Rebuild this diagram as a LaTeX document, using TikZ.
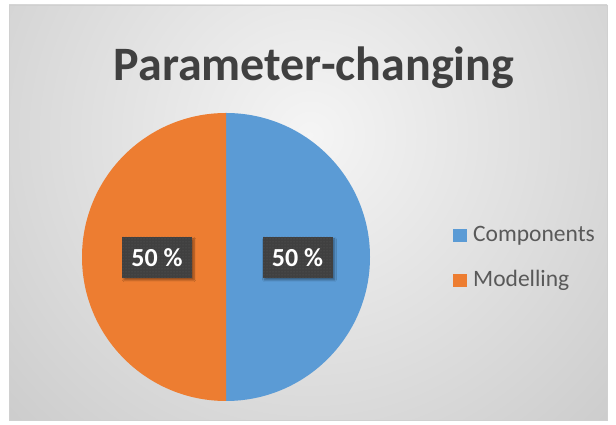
\documentclass[tikz,border=0pt]{standalone}
\usepackage{fontspec}
\setmainfont{Carlito}
\usetikzlibrary{shadows.blur,patterns}
\definecolor{cblue}{HTML}{5B9BD5}
\definecolor{corange}{HTML}{ED7D31}
\definecolor{cdark}{HTML}{404040}
\definecolor{ctext}{HTML}{595959}
\definecolor{cborder}{HTML}{D0D0D0}
\tikzset{
  pctbox/.style={fill=cdark, minimum width=70pt, minimum height=41pt, inner sep=0pt,
     blur shadow={shadow xshift=2pt, shadow yshift=-2pt, shadow blur steps=6, shadow opacity=40}},
  pcttxt/.style={text=white, font=\bfseries\fontsize{26}{26}\selectfont, inner sep=0pt},
  legsq/.style={minimum size=13.5pt, inner sep=0pt},
  legtxt/.style={anchor=west, text=ctext, font=\fontsize{23.5}{23.5}\selectfont, inner sep=0pt},
}
\begin{document}
\begin{tikzpicture}[x=1pt,y=1pt]
\useasboundingbox (0,0) rectangle (616,425);
\fill[white] (0,0) rectangle (616,425);
% chart area background
\begin{scope}
\clip (9,5) rectangle (607,420);
\shade[inner color=white!96!black, outer color=black!20] (310,290) circle (420);
\end{scope}
\draw[cborder, line width=0.8pt] (9,5) rectangle (607,420);
% title
\node[anchor=base, text=cdark, font=\bfseries\fontsize{48}{48}\selectfont, inner sep=0pt] (title) at (314,344.5) {Parameter-changing};
% pie
\coordinate (pc) at (226,168);
\fill[cblue] (pc) -- ++(90:144) arc[start angle=90, end angle=-90, radius=144] -- cycle;
\fill[corange] (pc) -- ++(90:144) arc[start angle=90, end angle=270, radius=144] -- cycle;
% data labels
\node[pctbox] (lblL) at (157,167.5) {};
\fill[pattern=dots, pattern color=white!15!cdark] (lblL.south west) rectangle (lblL.north east);
\node[pcttxt] (tL) at (lblL.center) {50 \%};
\node[pctbox] (lblR) at (297.5,167.5) {};
\fill[pattern=dots, pattern color=white!15!cdark] (lblR.south west) rectangle (lblR.north east);
\node[pcttxt] (tR) at (lblR.center) {50 \%};
% legend
\node[legsq, fill=cblue] (sqA) at (460,189.5) {};
\node[legtxt] (txA) at (473,189.5) {Components};
\node[legsq, fill=corange] (sqB) at (460,144.5) {};
\node[legtxt] (txB) at (473,144.5) {Modelling};
\end{tikzpicture}
\end{document}
